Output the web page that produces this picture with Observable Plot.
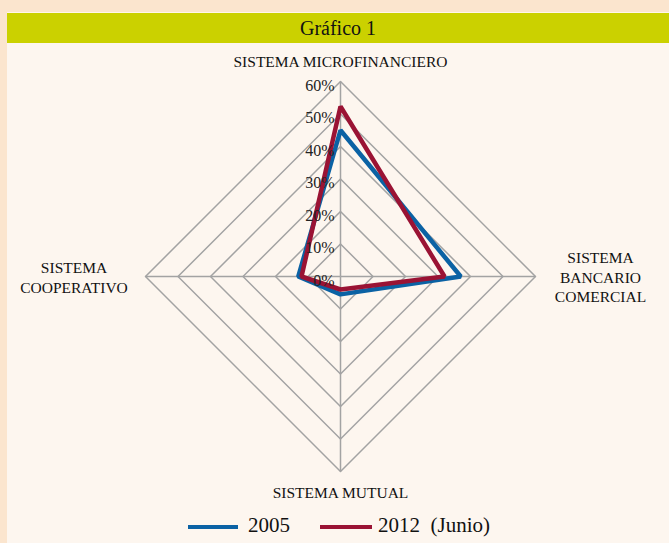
<!DOCTYPE html>
<html>
<head>
<meta charset="utf-8">
<script src="https://cdn.jsdelivr.net/npm/d3@7"></script>
<script src="https://cdn.jsdelivr.net/npm/@observablehq/plot@0.6"></script>
<style>
  html, body { margin: 0; padding: 0; }
  body { background: #fbe5ce; width: 669px; height: 543px; overflow: hidden; position: relative; font-family: "Liberation Serif", "DejaVu Serif", serif; }
  #frame { position: absolute; left: 7px; top: 12px; width: 662px; height: 531px; background: #fdf6ef; }
  #header { height: 30px; background: #cbd100; border-top: 1px solid #fff6ea; text-align: center; font-size: 20px; line-height: 30px; color: #111; }
  #legend { position: absolute; left: 0; top: 500px; width: 662px; height: 30px; }
  #legend span { position: absolute; font-size: 21px; color: #111; white-space: pre; }
  #legend i { position: absolute; height: 4px; }
  #chart text { font-family: "Liberation Serif", serif; }
</style>
</head>
<body>
<div id="frame">
  <div id="header">Gráfico 1</div>
  <div id="chart"></div>
  <div id="legend"></div>
</div>
<script>
const categorias = ["SISTEMA MICROFINANCIERO", "SISTEMA BANCARIO COMERCIAL", "SISTEMA MUTUAL", "SISTEMA COOPERATIVO"];
const etiquetas = ["SISTEMA MICROFINANCIERO", "SISTEMA\nBANCARIO\nCOMERCIAL", "SISTEMA MUTUAL", "SISTEMA\nCOOPERATIVO"];
const valores2005 = [45, 37, 5.5, 13];
const valores2012 = [52.3, 32, 4, 12];
const series = ["2005", "2012  (Junio)"];
const ticks = [0, 10, 20, 30, 40, 50, 60];
const tickLabels = ["0%", "10%", "20%", "30%", "40%", "50%", "60%"];

const colors = ["#0b62a4", "#9a1334"];
const labelRadius = [66.4, 80, 66.2, 82];
const ang = i => i * Math.PI / 2;
const px = (r, i) => r * Math.sin(ang(i));
const py = (r, i) => r * Math.cos(ang(i));

const rings = ticks.slice(1).flatMap(t => categorias.map((c, i) => ({ring: t, x: px(t, i), y: py(t, i)})));
const spokes = categorias.map((c, i) => ({x1: 0, y1: 0, x2: px(60, i), y2: py(60, i)}));
const pts = [valores2005, valores2012].flatMap((vals, s) =>
  vals.map((v, i) => ({serie: series[s], x: px(v, i), y: py(v, i)})));
const labels = etiquetas.map((l, i) => ({l, x: px(labelRadius[i], i), y: py(labelRadius[i], i)}));
const tk = ticks.map((t, k) => ({t, label: tickLabels[k]}));

const chart = Plot.plot({
  width: 662, height: 470,
  marginLeft: 138, marginRight: 134, marginTop: 38, marginBottom: 42,
  x: {domain: [-60, 60], axis: null},
  y: {domain: [-60, 60], axis: null},
  style: {background: "transparent", fontFamily: "'Liberation Serif', serif"},
  marks: [
    Plot.line(rings, {x: "x", y: "y", z: "ring", curve: "linear-closed", stroke: "#a3a3a3", strokeWidth: 1.5}),
    Plot.link(spokes, {x1: "x1", y1: "y1", x2: "x2", y2: "y2", stroke: "#a3a3a3", strokeWidth: 1.5}),
    Plot.line(pts, {x: "x", y: "y", z: "serie", stroke: "serie", curve: "linear-closed", strokeWidth: 4.5, strokeLinejoin: "miter"}),
    Plot.text(tk, {x: 0, y: "t", text: "label", textAnchor: "end", dx: -6, dy: 4, fontSize: 16, fill: "#222"}),
    Plot.text(labels, {x: "x", y: "y", text: "l", fontSize: 15.5, lineHeight: 1.27, fill: "#111"})
  ],
  color: {domain: series, range: colors}
});
document.getElementById("chart").appendChild(chart);

const lg = document.getElementById("legend");
const items = [{x: 181, w: 50, tx: 241}, {x: 313, w: 52, tx: 371}];
series.forEach((s, k) => {
  const line = document.createElement("i");
  line.style.left = items[k].x + "px"; line.style.width = items[k].w + "px";
  line.style.top = "13px"; line.style.background = colors[k];
  lg.appendChild(line);
  const t = document.createElement("span");
  t.textContent = s; t.style.left = items[k].tx + "px"; t.style.top = "1px";
  lg.appendChild(t);
});
</script>
</body>
</html>
